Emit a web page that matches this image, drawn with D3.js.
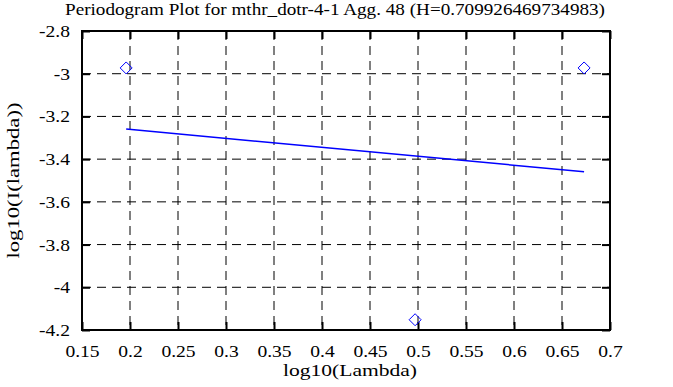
<!DOCTYPE html>
<html>
<head>
<meta charset="utf-8">
<script src="https://cdn.jsdelivr.net/npm/d3@7"></script>
<style>
  body { margin: 0; background: #fff; }
  text { font-family: "Liberation Serif", "DejaVu Serif", serif; fill: #000; font-size: 17px; }
</style>
</head>
<body>
<div id="chart"></div>
<script>
// periodogram points (log10 lambda, log10 I(lambda))
const pointX = [0.196, 0.497, 0.673];
const pointY = [-2.973, -4.152, -2.973];
// least squares fit, slope = 1 - 2H
const fitX = [0.196, 0.673];
const fitY = [-3.259, -3.459];
const xTicks = [0.15, 0.2, 0.25, 0.3, 0.35, 0.4, 0.45, 0.5, 0.55, 0.6, 0.65, 0.7];
const yTicks = [-2.8, -3, -3.2, -3.4, -3.6, -3.8, -4, -4.2];
const title = "Periodogram Plot for mthr_dotr-4-1 Agg. 48 (H=0.709926469734983)";

const width = 673, height = 387;
const margin = {top: 31, right: 63, bottom: 57, left: 82};
const w = width - margin.left - margin.right;
const h = height - margin.top - margin.bottom;

let svg = d3.select("#chart").append("svg")
    .attr("width", width)
    .attr("height", height);

let x = d3.scaleLinear().domain([0.15, 0.7]).range([0, w]);
let y = d3.scaleLinear().domain([-4.2, -2.8]).range([h, 0]);

// the original font is a wide bitmap serif, so widen the glyphs a bit
function stretch(sel, k) {
  sel.each(function() {
    let len = this.getComputedTextLength();
    d3.select(this).attr("textLength", len * k).attr("lengthAdjust", "spacingAndGlyphs");
  });
}

let g = svg.append("g").attr("transform", `translate(${margin.left},${margin.top})`);

// dashed grid
g.append("g").selectAll("line")
    .data(xTicks.slice(1, -1))
    .enter().append("line")
    .attr("x1", d => x(d)).attr("x2", d => x(d))
    .attr("y1", 0).attr("y2", h)
    .attr("stroke", "#000").attr("stroke-dasharray", "9,6");
g.append("g").selectAll("line")
    .data(yTicks.slice(1, -1))
    .enter().append("line")
    .attr("y1", d => y(d)).attr("y2", d => y(d))
    .attr("x1", 0).attr("x2", w)
    .attr("stroke", "#000").attr("stroke-dasharray", "9,6");

// axes with inward ticks on all four sides
let fmt = d => String(d);
let xAxis = g.append("g").attr("transform", `translate(0,${h})`)
    .call(d3.axisBottom(x).tickValues(xTicks).tickSize(-8).tickPadding(15).tickFormat(fmt));
let xTop = g.append("g")
    .call(d3.axisTop(x).tickValues(xTicks).tickSize(-8).tickFormat(""));
let yAxis = g.append("g")
    .call(d3.axisLeft(y).tickValues(yTicks).tickSize(-8).tickPadding(12).tickFormat(fmt));
let yRight = g.append("g").attr("transform", `translate(${w},0)`)
    .call(d3.axisRight(y).tickValues(yTicks).tickSize(-8).tickFormat(""));

[xAxis, xTop, yAxis, yRight].forEach(a => {
  a.attr("font-family", null).attr("font-size", null);
  a.select(".domain").remove();
  a.selectAll("line").attr("stroke", "#000").attr("stroke-width", 2);
});
stretch(xAxis.selectAll("text"), 1.15);
stretch(yAxis.selectAll("text"), 1.15);

g.append("rect")
    .attr("width", w).attr("height", h)
    .attr("fill", "none").attr("stroke", "#000").attr("stroke-width", 2);

// fit line
g.append("path")
    .datum(fitX.map((d, i) => [d, fitY[i]]))
    .attr("d", d3.line().x(d => x(d[0])).y(d => y(d[1])))
    .attr("fill", "none").attr("stroke", "#0000ff").attr("stroke-width", 1.5);

// diamond markers
g.append("g").selectAll("path")
    .data(pointX.map((d, i) => [d, pointY[i]]))
    .enter().append("path")
    .attr("transform", d => `translate(${x(d[0])},${y(d[1])})`)
    .attr("d", "M0,-6L6,0L0,6L-6,0Z")
    .attr("fill", "none").attr("stroke", "#0000ff").attr("stroke-width", 1);

svg.append("text")
    .attr("x", 335).attr("y", 15)
    .attr("text-anchor", "middle")
    .attr("textLength", 540).attr("lengthAdjust", "spacingAndGlyphs")
    .text(title);

svg.append("text")
    .attr("x", 350).attr("y", 376)
    .attr("text-anchor", "middle")
    .attr("textLength", 134).attr("lengthAdjust", "spacingAndGlyphs")
    .text("log10(Lambda)");

svg.append("text")
    .attr("transform", `translate(19,${margin.top + h / 2}) rotate(-90)`)
    .attr("text-anchor", "middle")
    .attr("textLength", 156).attr("lengthAdjust", "spacingAndGlyphs")
    .text("log10(I(lambda))");
</script>
</body>
</html>
